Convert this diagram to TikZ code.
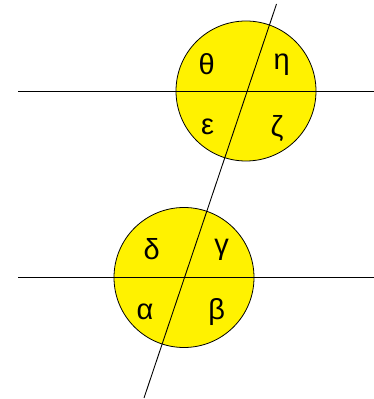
\documentclass[tikz,border=0pt]{standalone}
\usepackage{fontspec}
\setmainfont{Liberation Sans}
\begin{document}
\begin{tikzpicture}[x=1pt,y=1pt,
    disc/.style={fill=yellow,draw=black,line width=0.8pt},
    line/.style={draw=black,line width=0.9pt},
    angle/.style={inner sep=0pt,font=\fontsize{29}{29}\selectfont}]
\useasboundingbox (0,0) rectangle (374,399);
%
% ============ Kreise ============
\path[disc] (246,308) circle (70);
\path[disc] (184,121.5) circle (70);
%
% ============ Geraden ============
\coordinate (p1) at (18,308);
\coordinate (q1) at (374,308);
\coordinate (p2) at (18,121.5);
\coordinate (q2) at (374,121.5);
\coordinate (top) at (276.5,395);
\coordinate (bot) at (144,1);
\draw[line] (p1) -- (q1);
\draw[line] (p2) -- (q2);
\draw[line] (top) -- (bot);
%
% ============ Winkel oben ============
\node[angle] (theta) at (206.7,335) {θ};
\node[angle] (eta)   at (281.7,334) {η};
\node[angle] (eps)   at (207.7,272) {ε};
\node[angle] (zeta)  at (277,271)   {ζ};
%
% ============ Winkel unten ============
\node[angle] (delta) at (151.7,150) {δ};
\node[angle] (gamma) at (221.7,149) {γ};
\node[angle] (alpha) at (145,87)    {α};
\node[angle] (beta)  at (216.7,87)  {β};
\end{tikzpicture}
\end{document}
